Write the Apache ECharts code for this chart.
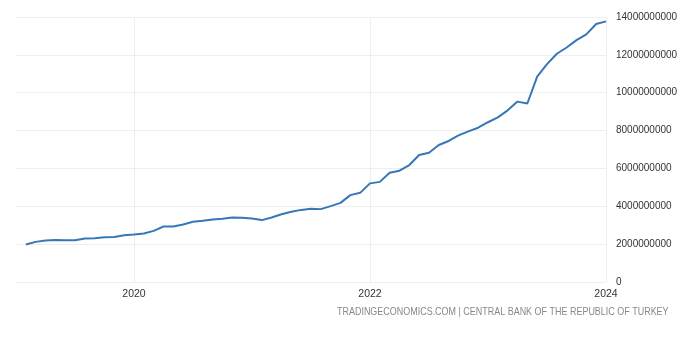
<!DOCTYPE html>
<html>
<head>
<meta charset="utf-8">
<script src="https://cdn.jsdelivr.net/npm/echarts@6/dist/echarts.min.js"></script>
<style>
html,body{margin:0;padding:0;background:#fff;}
#chart{width:688px;height:343px;}
</style>
</head>
<body>
<div id="chart"></div>
<script>
// Monthly categories Jan 2019 .. Jan 2024
const months = [
  '2019-01','2019-02','2019-03','2019-04','2019-05','2019-06','2019-07','2019-08','2019-09','2019-10','2019-11','2019-12',
  '2020-01','2020-02','2020-03','2020-04','2020-05','2020-06','2020-07','2020-08','2020-09','2020-10','2020-11','2020-12',
  '2021-01','2021-02','2021-03','2021-04','2021-05','2021-06','2021-07','2021-08','2021-09','2021-10','2021-11','2021-12',
  '2022-01','2022-02','2022-03','2022-04','2022-05','2022-06','2022-07','2022-08','2022-09','2022-10','2022-11','2022-12',
  '2023-01','2023-02','2023-03','2023-04','2023-05','2023-06','2023-07','2023-08','2023-09','2023-10','2023-11','2023-12',
  '2024-01'
];
// Values in billions
const valuesBn = [
  null,1.98,2.12,2.19,2.22,2.21,2.21,2.30,2.31,2.37,2.38,2.47,
  2.51,2.56,2.70,2.93,2.93,3.04,3.18,3.23,3.30,3.34,3.41,3.40,
  3.36,3.27,3.41,3.58,3.71,3.81,3.87,3.85,4.01,4.18,4.59,4.71,
  5.21,5.29,5.77,5.88,6.18,6.71,6.83,7.24,7.45,7.75,7.96,8.15,
  8.44,8.70,9.07,9.53,9.43,10.85,11.51,12.06,12.39,12.78,13.08,13.63,
  13.77
];
const xTickLabels = ['2020-01','2022-01','2024-01'];
const yTicks = [0,2000000000,4000000000,6000000000,8000000000,10000000000,12000000000,14000000000];
const sourceText = 'TRADINGECONOMICS.COM | CENTRAL BANK OF THE REPUBLIC OF TURKEY';

const seriesData = valuesBn.map(v => v === null ? null : Math.round(v * 1e9));

const chart = echarts.init(document.getElementById('chart'), null, {renderer:'canvas'});
const isTick = (idx, val) => xTickLabels.indexOf(val) >= 0;
chart.setOption({
  animation: false,
  backgroundColor: '#ffffff',
  grid: {left: 16, right: 82, top: 17, bottom: 61, containLabel: false},
  xAxis: {
    type: 'category',
    data: months,
    boundaryGap: false,
    axisLine: {show: false},
    axisTick: {show: false},
    axisLabel: {
      interval: isTick,
      formatter: v => v.slice(0,4),
      color: '#333',
      fontFamily: 'Liberation Sans',
      fontSize: 10.5,
      margin: 7
    },
    splitLine: {show: true, interval: isTick, lineStyle: {color: '#eeeeee', width: 1}}
  },
  yAxis: {
    type: 'value',
    position: 'right',
    min: yTicks[0],
    max: yTicks[yTicks.length-1],
    interval: yTicks[1] - yTicks[0],
    axisLine: {show: false},
    axisTick: {show: false},
    axisLabel: {
      formatter: v => String(v),
      color: '#333',
      fontFamily: 'Liberation Sans',
      fontSize: 10,
      margin: 10
    },
    splitLine: {show: true, lineStyle: {color: '#eeeeee', width: 1}}
  },
  series: [{
    type: 'line',
    data: seriesData,
    showSymbol: false,
    connectNulls: false,
    lineStyle: {color: '#3677b6', width: 2},
    itemStyle: {color: '#3677b6'}
  }],
  graphic: [{
    type: 'text',
    left: 337,
    top: 306,
    scaleX: 0.815,
    style: {
      text: sourceText,
      fill: '#888888',
      font: '11px "Liberation Sans", sans-serif'
    }
  }]
});
</script>
</body>
</html>
